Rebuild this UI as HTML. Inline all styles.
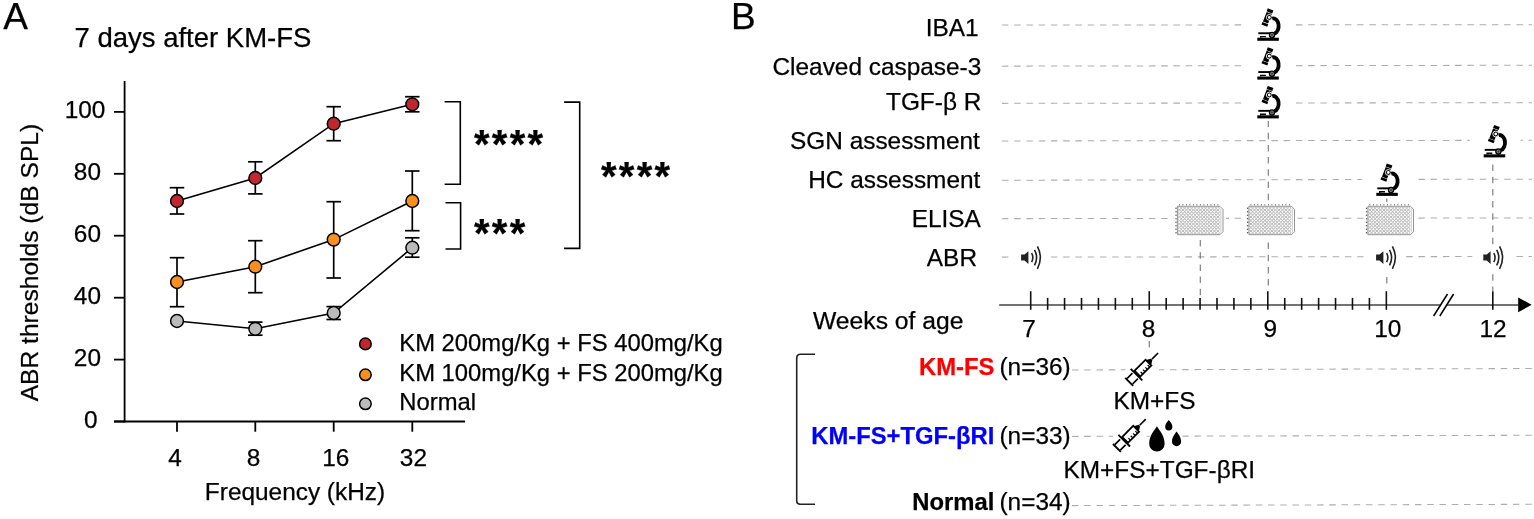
<!DOCTYPE html><html><head><meta charset="utf-8"><style>html,body{margin:0;padding:0;background:#fff;}svg{display:block;}text{font-family:"Liberation Sans",Arial,sans-serif;stroke:currentColor;stroke-width:0.25px;}</style></head><body>
<svg width="1534" height="519" viewBox="0 0 1534 519">
<rect width="1534" height="519" fill="#fff"/>
<text x="3.3" y="29.3" font-size="37">A</text>
<text x="74.5" y="47" font-size="27.5">7 days after KM-FS</text>
<g stroke="#000" stroke-width="1.8" fill="none">
<line x1="124.6" y1="81" x2="124.6" y2="422.4"/>
<line x1="114" y1="421.5" x2="465" y2="421.5"/>
<line x1="114" y1="421.5" x2="124.6" y2="421.5"/>
<line x1="114" y1="359.6" x2="124.6" y2="359.6"/>
<line x1="114" y1="297.7" x2="124.6" y2="297.7"/>
<line x1="114" y1="235.7" x2="124.6" y2="235.7"/>
<line x1="114" y1="173.8" x2="124.6" y2="173.8"/>
<line x1="114" y1="111.9" x2="124.6" y2="111.9"/>
<line x1="177" y1="421.5" x2="177" y2="431.7"/>
<line x1="255.3" y1="421.5" x2="255.3" y2="431.7"/>
<line x1="333.7" y1="421.5" x2="333.7" y2="431.7"/>
<line x1="412.3" y1="421.5" x2="412.3" y2="431.7"/>
</g>
<text x="97.6" y="427.8" font-size="24.4" text-anchor="end">0</text>
<text x="101" y="365.8" font-size="24.4" text-anchor="end">20</text>
<text x="101" y="303.8" font-size="24.4" text-anchor="end">40</text>
<text x="101" y="241.8" font-size="24.4" text-anchor="end">60</text>
<text x="101" y="179.8" font-size="24.4" text-anchor="end">80</text>
<text x="105.4" y="117.8" font-size="24.4" text-anchor="end">100</text>
<text x="175" y="465.8" font-size="24.4" text-anchor="middle">4</text>
<text x="253.6" y="465.8" font-size="24.4" text-anchor="middle">8</text>
<text x="335.8" y="465.8" font-size="24.4" text-anchor="middle">16</text>
<text x="413.4" y="465.8" font-size="24.4" text-anchor="middle">32</text>
<text x="295" y="500" font-size="24.4" text-anchor="middle">Frequency (kHz)</text>
<text transform="translate(38.2,262.6) rotate(-90)" font-size="24.6" text-anchor="middle">ABR thresholds (dB SPL)</text>
<g stroke="#000" stroke-width="1.7" fill="none">
<polyline points="177,201 255.3,178 333.7,123.7 412.3,104.3" stroke-width="1.6"/>
<line x1="177" y1="187.7" x2="177" y2="214"/>
<line x1="169.75" y1="187.7" x2="184.25" y2="187.7"/>
<line x1="169.75" y1="214" x2="184.25" y2="214"/>
<line x1="255.3" y1="161.8" x2="255.3" y2="193.9"/>
<line x1="248.05" y1="161.8" x2="262.55" y2="161.8"/>
<line x1="248.05" y1="193.9" x2="262.55" y2="193.9"/>
<line x1="333.7" y1="106.7" x2="333.7" y2="140.7"/>
<line x1="326.45" y1="106.7" x2="340.95" y2="106.7"/>
<line x1="326.45" y1="140.7" x2="340.95" y2="140.7"/>
<line x1="412.3" y1="96.7" x2="412.3" y2="111.8"/>
<line x1="405.05" y1="96.7" x2="419.55" y2="96.7"/>
<line x1="405.05" y1="111.8" x2="419.55" y2="111.8"/>
</g>
<g stroke="#000" stroke-width="1.7" fill="none">
<polyline points="177,282 255.3,266.7 333.7,239.6 412.3,201" stroke-width="1.6"/>
<line x1="177" y1="257.7" x2="177" y2="306.7"/>
<line x1="169.75" y1="257.7" x2="184.25" y2="257.7"/>
<line x1="169.75" y1="306.7" x2="184.25" y2="306.7"/>
<line x1="255.3" y1="240.7" x2="255.3" y2="292.7"/>
<line x1="248.05" y1="240.7" x2="262.55" y2="240.7"/>
<line x1="248.05" y1="292.7" x2="262.55" y2="292.7"/>
<line x1="333.7" y1="201.7" x2="333.7" y2="278"/>
<line x1="326.45" y1="201.7" x2="340.95" y2="201.7"/>
<line x1="326.45" y1="278" x2="340.95" y2="278"/>
<line x1="412.3" y1="171" x2="412.3" y2="230.7"/>
<line x1="405.05" y1="171" x2="419.55" y2="171"/>
<line x1="405.05" y1="230.7" x2="419.55" y2="230.7"/>
</g>
<g stroke="#000" stroke-width="1.7" fill="none">
<polyline points="177,321 255.3,328.8 333.7,313 412.3,247.7" stroke-width="1.6"/>
<line x1="255.3" y1="322.1" x2="255.3" y2="335.2"/>
<line x1="248.05" y1="322.1" x2="262.55" y2="322.1"/>
<line x1="248.05" y1="335.2" x2="262.55" y2="335.2"/>
<line x1="333.7" y1="306.6" x2="333.7" y2="319.5"/>
<line x1="326.45" y1="306.6" x2="340.95" y2="306.6"/>
<line x1="326.45" y1="319.5" x2="340.95" y2="319.5"/>
<line x1="412.3" y1="237.8" x2="412.3" y2="257.2"/>
<line x1="405.05" y1="237.8" x2="419.55" y2="237.8"/>
<line x1="405.05" y1="257.2" x2="419.55" y2="257.2"/>
</g>
<circle cx="177" cy="201" r="6.4" fill="#c1272d" stroke="#000" stroke-width="1.5"/>
<circle cx="255.3" cy="178" r="6.4" fill="#c1272d" stroke="#000" stroke-width="1.5"/>
<circle cx="333.7" cy="123.7" r="6.4" fill="#c1272d" stroke="#000" stroke-width="1.5"/>
<circle cx="412.3" cy="104.3" r="6.4" fill="#c1272d" stroke="#000" stroke-width="1.5"/>
<circle cx="177" cy="282" r="6.4" fill="#f7901e" stroke="#000" stroke-width="1.5"/>
<circle cx="255.3" cy="266.7" r="6.4" fill="#f7901e" stroke="#000" stroke-width="1.5"/>
<circle cx="333.7" cy="239.6" r="6.4" fill="#f7901e" stroke="#000" stroke-width="1.5"/>
<circle cx="412.3" cy="201" r="6.4" fill="#f7901e" stroke="#000" stroke-width="1.5"/>
<circle cx="177" cy="321" r="6.4" fill="#bbbbbb" stroke="#000" stroke-width="1.5"/>
<circle cx="255.3" cy="328.8" r="6.4" fill="#bbbbbb" stroke="#000" stroke-width="1.5"/>
<circle cx="333.7" cy="313" r="6.4" fill="#bbbbbb" stroke="#000" stroke-width="1.5"/>
<circle cx="412.3" cy="247.7" r="6.4" fill="#bbbbbb" stroke="#000" stroke-width="1.5"/>
<g stroke="#000" stroke-width="1.7" fill="none">
<polyline points="444.6,101.7 460.3,101.7 460.3,184.2 444.6,184.2" stroke-width="1.6"/>
<polyline points="445.5,202.7 460.6,202.7 460.6,249 445.5,249" stroke-width="1.6"/>
<polyline points="564.1,102.1 579.7,102.1 579.7,248.4 564.1,248.4" stroke-width="1.6"/>
</g>
<text x="474" y="158" font-size="40" font-weight="bold" letter-spacing="2.3">****</text>
<text x="474" y="247" font-size="40" font-weight="bold" letter-spacing="2.3">***</text>
<text x="601" y="190" font-size="40" font-weight="bold" letter-spacing="2.3">****</text>
<circle cx="365.4" cy="343.9" r="5.8" fill="#c1272d" stroke="#000" stroke-width="1.5"/>
<text x="399.3" y="350.7" font-size="23.8">KM 200mg/Kg + FS 400mg/Kg</text>
<circle cx="365.4" cy="374.8" r="5.8" fill="#f7901e" stroke="#000" stroke-width="1.5"/>
<text x="399.3" y="380.7" font-size="23.8">KM 100mg/Kg + FS 200mg/Kg</text>
<circle cx="365.4" cy="403.8" r="5.8" fill="#bbbbbb" stroke="#000" stroke-width="1.5"/>
<text x="399.3" y="409.6" font-size="23.8">Normal</text>
<text x="731" y="29" font-size="37">B</text>
<text x="978.6" y="36" font-size="24.4" text-anchor="end">IBA1</text>
<line x1="1001.9" y1="25.05" x2="1532" y2="24.7" stroke="#adadad" stroke-width="1.05" stroke-dasharray="6.5 5.75"/>
<text x="981.3" y="75.1" font-size="24.4" text-anchor="end">Cleaved caspase-3</text>
<line x1="1001.9" y1="66.15" x2="1532" y2="65.25" stroke="#adadad" stroke-width="1.05" stroke-dasharray="6.5 5.75"/>
<text x="981.3" y="109.8" font-size="24.4" text-anchor="end">TGF-β R</text>
<line x1="1001.9" y1="103.35" x2="1532" y2="102.65" stroke="#adadad" stroke-width="1.05" stroke-dasharray="6.5 5.75"/>
<text x="979.8" y="149.2" font-size="24.4" text-anchor="end">SGN assessment</text>
<line x1="1001.9" y1="140.95" x2="1532" y2="140.3" stroke="#adadad" stroke-width="1.05" stroke-dasharray="6.5 5.75"/>
<text x="980.3" y="187.7" font-size="24.4" text-anchor="end">HC assessment</text>
<line x1="1001.9" y1="180.25" x2="1532" y2="179.15" stroke="#adadad" stroke-width="1.05" stroke-dasharray="6.5 5.75"/>
<text x="980.8" y="226.8" font-size="24.4" text-anchor="end">ELISA</text>
<line x1="1001.9" y1="218.65" x2="1532" y2="217.95" stroke="#adadad" stroke-width="1.05" stroke-dasharray="6.5 5.75"/>
<text x="977" y="265.6" font-size="24.4" text-anchor="end">ABR</text>
<line x1="1001.9" y1="257.1" x2="1532" y2="256.5" stroke="#adadad" stroke-width="1.05" stroke-dasharray="6.5 5.75"/>
<line x1="1268.3" y1="120.5" x2="1268.3" y2="291" stroke="#808080" stroke-width="1.2" stroke-dasharray="6.5 5.7"/>
<line x1="1200.3" y1="240" x2="1200.3" y2="297" stroke="#808080" stroke-width="1.2" stroke-dasharray="6.5 5.7"/>
<line x1="1386.8" y1="197.5" x2="1386.8" y2="202" stroke="#808080" stroke-width="1.2" stroke-dasharray="6.5 5.7"/>
<line x1="1386.8" y1="277" x2="1386.8" y2="283.5" stroke="#808080" stroke-width="1.2" stroke-dasharray="6.5 5.7"/>
<line x1="1492.8" y1="164.5" x2="1492.8" y2="291" stroke="#808080" stroke-width="1.2" stroke-dasharray="6.5 5.7"/>
<line x1="1149.3" y1="341" x2="1149.3" y2="353" stroke="#808080" stroke-width="1.2" stroke-dasharray="6.5 5.7"/>
<line x1="999.2" y1="305" x2="1440.6" y2="305" stroke="#444" stroke-width="1.6"/>
<line x1="1446.7" y1="305" x2="1520" y2="305" stroke="#444" stroke-width="1.6"/>
<path d="M1518.2 297.4 L1531.6 304.8 L1518.2 312.2 Z" fill="#000"/>
<g stroke="#111" stroke-width="1.6">
<line x1="1030.70" y1="291.2" x2="1030.70" y2="309.8"/>
<line x1="1047.64" y1="297.9" x2="1047.64" y2="309.8"/>
<line x1="1064.57" y1="297.9" x2="1064.57" y2="309.8"/>
<line x1="1081.51" y1="297.9" x2="1081.51" y2="309.8"/>
<line x1="1098.44" y1="297.9" x2="1098.44" y2="309.8"/>
<line x1="1115.38" y1="297.9" x2="1115.38" y2="309.8"/>
<line x1="1132.31" y1="297.9" x2="1132.31" y2="309.8"/>
<line x1="1149.25" y1="291.2" x2="1149.25" y2="309.8"/>
<line x1="1166.19" y1="297.9" x2="1166.19" y2="309.8"/>
<line x1="1183.12" y1="297.9" x2="1183.12" y2="309.8"/>
<line x1="1200.06" y1="297.9" x2="1200.06" y2="309.8"/>
<line x1="1216.99" y1="297.9" x2="1216.99" y2="309.8"/>
<line x1="1233.93" y1="297.9" x2="1233.93" y2="309.8"/>
<line x1="1250.86" y1="297.9" x2="1250.86" y2="309.8"/>
<line x1="1267.80" y1="291.2" x2="1267.80" y2="309.8"/>
<line x1="1284.74" y1="297.9" x2="1284.74" y2="309.8"/>
<line x1="1301.67" y1="297.9" x2="1301.67" y2="309.8"/>
<line x1="1318.61" y1="297.9" x2="1318.61" y2="309.8"/>
<line x1="1335.54" y1="297.9" x2="1335.54" y2="309.8"/>
<line x1="1352.48" y1="297.9" x2="1352.48" y2="309.8"/>
<line x1="1369.41" y1="297.9" x2="1369.41" y2="309.8"/>
<line x1="1386.35" y1="291.2" x2="1386.35" y2="309.8"/>
<line x1="1492.8" y1="291.2" x2="1492.8" y2="309.8"/>
</g>
<g stroke="#000" stroke-width="1.5"><line x1="1433.6" y1="316" x2="1447.5" y2="294"/><line x1="1439.8" y1="316" x2="1453.6" y2="294"/></g>
<text x="1029" y="336.6" font-size="24.4" text-anchor="middle">7</text>
<text x="1148.5" y="336.6" font-size="24.4" text-anchor="middle">8</text>
<text x="1270.2" y="336.6" font-size="24.4" text-anchor="middle">9</text>
<text x="1387.8" y="336.6" font-size="24.4" text-anchor="middle">10</text>
<text x="1493" y="336.6" font-size="24.4" text-anchor="middle">12</text>
<text x="813" y="328.9" font-size="24.7">Weeks of age</text>
<g transform="translate(1257.2,8.4)"><rect x="-14" y="-2" width="51" height="37" fill="#fff"/><g transform="translate(9.9 10.1) rotate(21)"><rect x="-3" y="-9.7" width="6" height="3.2" fill="#000"/><rect x="-2.75" y="-6" width="5.5" height="10.4" fill="#000"/><rect x="-3.1" y="4.9" width="6.2" height="2.7" fill="#000"/></g><circle cx="12.1" cy="9" r="2.9" fill="#000" stroke="#fff" stroke-width="0.9"/><circle cx="12.1" cy="9" r="1.4" fill="#fff"/><path d="M15 10.2 A 5.3 7.6 0 0 1 17.2 25.2" fill="none" stroke="#000" stroke-width="3.8"/><rect x="1.1" y="23.9" width="12.8" height="1.9" fill="#000"/><circle cx="14.8" cy="26.5" r="3.2" fill="#000"/><circle cx="14.8" cy="26.5" r="1.6" fill="#444" stroke="#ccc" stroke-width="0.5"/><path d="M2.8 27.5 H8.7 V28.9 H4.2 V29.4 H2.8 Z" fill="#000"/><rect x="0.1" y="29.3" width="21.5" height="3.1" fill="#000"/></g>
<g transform="translate(1257.2,47.2)"><rect x="-14" y="-2" width="51" height="37" fill="#fff"/><g transform="translate(9.9 10.1) rotate(21)"><rect x="-3" y="-9.7" width="6" height="3.2" fill="#000"/><rect x="-2.75" y="-6" width="5.5" height="10.4" fill="#000"/><rect x="-3.1" y="4.9" width="6.2" height="2.7" fill="#000"/></g><circle cx="12.1" cy="9" r="2.9" fill="#000" stroke="#fff" stroke-width="0.9"/><circle cx="12.1" cy="9" r="1.4" fill="#fff"/><path d="M15 10.2 A 5.3 7.6 0 0 1 17.2 25.2" fill="none" stroke="#000" stroke-width="3.8"/><rect x="1.1" y="23.9" width="12.8" height="1.9" fill="#000"/><circle cx="14.8" cy="26.5" r="3.2" fill="#000"/><circle cx="14.8" cy="26.5" r="1.6" fill="#444" stroke="#ccc" stroke-width="0.5"/><path d="M2.8 27.5 H8.7 V28.9 H4.2 V29.4 H2.8 Z" fill="#000"/><rect x="0.1" y="29.3" width="21.5" height="3.1" fill="#000"/></g>
<g transform="translate(1257.2,86)"><rect x="-14" y="-2" width="51" height="37" fill="#fff"/><g transform="translate(9.9 10.1) rotate(21)"><rect x="-3" y="-9.7" width="6" height="3.2" fill="#000"/><rect x="-2.75" y="-6" width="5.5" height="10.4" fill="#000"/><rect x="-3.1" y="4.9" width="6.2" height="2.7" fill="#000"/></g><circle cx="12.1" cy="9" r="2.9" fill="#000" stroke="#fff" stroke-width="0.9"/><circle cx="12.1" cy="9" r="1.4" fill="#fff"/><path d="M15 10.2 A 5.3 7.6 0 0 1 17.2 25.2" fill="none" stroke="#000" stroke-width="3.8"/><rect x="1.1" y="23.9" width="12.8" height="1.9" fill="#000"/><circle cx="14.8" cy="26.5" r="3.2" fill="#000"/><circle cx="14.8" cy="26.5" r="1.6" fill="#444" stroke="#ccc" stroke-width="0.5"/><path d="M2.8 27.5 H8.7 V28.9 H4.2 V29.4 H2.8 Z" fill="#000"/><rect x="0.1" y="29.3" width="21.5" height="3.1" fill="#000"/></g>
<g transform="translate(1483.6,125)"><rect x="-14" y="-2" width="51" height="37" fill="#fff"/><g transform="translate(9.9 10.1) rotate(21)"><rect x="-3" y="-9.7" width="6" height="3.2" fill="#000"/><rect x="-2.75" y="-6" width="5.5" height="10.4" fill="#000"/><rect x="-3.1" y="4.9" width="6.2" height="2.7" fill="#000"/></g><circle cx="12.1" cy="9" r="2.9" fill="#000" stroke="#fff" stroke-width="0.9"/><circle cx="12.1" cy="9" r="1.4" fill="#fff"/><path d="M15 10.2 A 5.3 7.6 0 0 1 17.2 25.2" fill="none" stroke="#000" stroke-width="3.8"/><rect x="1.1" y="23.9" width="12.8" height="1.9" fill="#000"/><circle cx="14.8" cy="26.5" r="3.2" fill="#000"/><circle cx="14.8" cy="26.5" r="1.6" fill="#444" stroke="#ccc" stroke-width="0.5"/><path d="M2.8 27.5 H8.7 V28.9 H4.2 V29.4 H2.8 Z" fill="#000"/><rect x="0.1" y="29.3" width="21.5" height="3.1" fill="#000"/></g>
<g transform="translate(1376.2,163.5)"><rect x="-14" y="-2" width="51" height="37" fill="#fff"/><g transform="translate(9.9 10.1) rotate(21)"><rect x="-3" y="-9.7" width="6" height="3.2" fill="#000"/><rect x="-2.75" y="-6" width="5.5" height="10.4" fill="#000"/><rect x="-3.1" y="4.9" width="6.2" height="2.7" fill="#000"/></g><circle cx="12.1" cy="9" r="2.9" fill="#000" stroke="#fff" stroke-width="0.9"/><circle cx="12.1" cy="9" r="1.4" fill="#fff"/><path d="M15 10.2 A 5.3 7.6 0 0 1 17.2 25.2" fill="none" stroke="#000" stroke-width="3.8"/><rect x="1.1" y="23.9" width="12.8" height="1.9" fill="#000"/><circle cx="14.8" cy="26.5" r="3.2" fill="#000"/><circle cx="14.8" cy="26.5" r="1.6" fill="#444" stroke="#ccc" stroke-width="0.5"/><path d="M2.8 27.5 H8.7 V28.9 H4.2 V29.4 H2.8 Z" fill="#000"/><rect x="0.1" y="29.3" width="21.5" height="3.1" fill="#000"/></g>
<g transform="translate(1177.4,206.3)"><rect x="-4" y="-4" width="52.6" height="35.4" fill="#fff"/><path d="M0 0 H42.6 L45.6 3 V25.4 L42.6 28.4 H0 Z" fill="#fff" stroke="#7a7a7a" stroke-width="0.8"/><line x1="43.4" y1="2.2" x2="43.4" y2="26.2" stroke="#999" stroke-width="0.5"/><circle cx="2.00" cy="1.95" r="1.45" fill="#fff" stroke="#8c8c8c" stroke-width="0.55"/><circle cx="5.50" cy="1.95" r="1.45" fill="#fff" stroke="#8c8c8c" stroke-width="0.55"/><circle cx="9.00" cy="1.95" r="1.45" fill="#fff" stroke="#8c8c8c" stroke-width="0.55"/><circle cx="12.50" cy="1.95" r="1.45" fill="#fff" stroke="#8c8c8c" stroke-width="0.55"/><circle cx="16.00" cy="1.95" r="1.45" fill="#fff" stroke="#8c8c8c" stroke-width="0.55"/><circle cx="19.50" cy="1.95" r="1.45" fill="#fff" stroke="#8c8c8c" stroke-width="0.55"/><circle cx="23.00" cy="1.95" r="1.45" fill="#fff" stroke="#8c8c8c" stroke-width="0.55"/><circle cx="26.50" cy="1.95" r="1.45" fill="#fff" stroke="#8c8c8c" stroke-width="0.55"/><circle cx="30.00" cy="1.95" r="1.45" fill="#fff" stroke="#8c8c8c" stroke-width="0.55"/><circle cx="33.50" cy="1.95" r="1.45" fill="#fff" stroke="#8c8c8c" stroke-width="0.55"/><circle cx="37.00" cy="1.95" r="1.45" fill="#fff" stroke="#8c8c8c" stroke-width="0.55"/><circle cx="40.50" cy="1.95" r="1.45" fill="#fff" stroke="#8c8c8c" stroke-width="0.55"/><circle cx="2.00" cy="5.45" r="1.45" fill="#fff" stroke="#8c8c8c" stroke-width="0.55"/><circle cx="5.50" cy="5.45" r="1.45" fill="#fff" stroke="#8c8c8c" stroke-width="0.55"/><circle cx="9.00" cy="5.45" r="1.45" fill="#fff" stroke="#8c8c8c" stroke-width="0.55"/><circle cx="12.50" cy="5.45" r="1.45" fill="#fff" stroke="#8c8c8c" stroke-width="0.55"/><circle cx="16.00" cy="5.45" r="1.45" fill="#fff" stroke="#8c8c8c" stroke-width="0.55"/><circle cx="19.50" cy="5.45" r="1.45" fill="#fff" stroke="#8c8c8c" stroke-width="0.55"/><circle cx="23.00" cy="5.45" r="1.45" fill="#fff" stroke="#8c8c8c" stroke-width="0.55"/><circle cx="26.50" cy="5.45" r="1.45" fill="#fff" stroke="#8c8c8c" stroke-width="0.55"/><circle cx="30.00" cy="5.45" r="1.45" fill="#fff" stroke="#8c8c8c" stroke-width="0.55"/><circle cx="33.50" cy="5.45" r="1.45" fill="#fff" stroke="#8c8c8c" stroke-width="0.55"/><circle cx="37.00" cy="5.45" r="1.45" fill="#fff" stroke="#8c8c8c" stroke-width="0.55"/><circle cx="40.50" cy="5.45" r="1.45" fill="#fff" stroke="#8c8c8c" stroke-width="0.55"/><circle cx="2.00" cy="8.95" r="1.45" fill="#fff" stroke="#8c8c8c" stroke-width="0.55"/><circle cx="5.50" cy="8.95" r="1.45" fill="#fff" stroke="#8c8c8c" stroke-width="0.55"/><circle cx="9.00" cy="8.95" r="1.45" fill="#fff" stroke="#8c8c8c" stroke-width="0.55"/><circle cx="12.50" cy="8.95" r="1.45" fill="#fff" stroke="#8c8c8c" stroke-width="0.55"/><circle cx="16.00" cy="8.95" r="1.45" fill="#fff" stroke="#8c8c8c" stroke-width="0.55"/><circle cx="19.50" cy="8.95" r="1.45" fill="#fff" stroke="#8c8c8c" stroke-width="0.55"/><circle cx="23.00" cy="8.95" r="1.45" fill="#fff" stroke="#8c8c8c" stroke-width="0.55"/><circle cx="26.50" cy="8.95" r="1.45" fill="#fff" stroke="#8c8c8c" stroke-width="0.55"/><circle cx="30.00" cy="8.95" r="1.45" fill="#fff" stroke="#8c8c8c" stroke-width="0.55"/><circle cx="33.50" cy="8.95" r="1.45" fill="#fff" stroke="#8c8c8c" stroke-width="0.55"/><circle cx="37.00" cy="8.95" r="1.45" fill="#fff" stroke="#8c8c8c" stroke-width="0.55"/><circle cx="40.50" cy="8.95" r="1.45" fill="#fff" stroke="#8c8c8c" stroke-width="0.55"/><circle cx="2.00" cy="12.45" r="1.45" fill="#fff" stroke="#8c8c8c" stroke-width="0.55"/><circle cx="5.50" cy="12.45" r="1.45" fill="#fff" stroke="#8c8c8c" stroke-width="0.55"/><circle cx="9.00" cy="12.45" r="1.45" fill="#fff" stroke="#8c8c8c" stroke-width="0.55"/><circle cx="12.50" cy="12.45" r="1.45" fill="#fff" stroke="#8c8c8c" stroke-width="0.55"/><circle cx="16.00" cy="12.45" r="1.45" fill="#fff" stroke="#8c8c8c" stroke-width="0.55"/><circle cx="19.50" cy="12.45" r="1.45" fill="#fff" stroke="#8c8c8c" stroke-width="0.55"/><circle cx="23.00" cy="12.45" r="1.45" fill="#fff" stroke="#8c8c8c" stroke-width="0.55"/><circle cx="26.50" cy="12.45" r="1.45" fill="#fff" stroke="#8c8c8c" stroke-width="0.55"/><circle cx="30.00" cy="12.45" r="1.45" fill="#fff" stroke="#8c8c8c" stroke-width="0.55"/><circle cx="33.50" cy="12.45" r="1.45" fill="#fff" stroke="#8c8c8c" stroke-width="0.55"/><circle cx="37.00" cy="12.45" r="1.45" fill="#fff" stroke="#8c8c8c" stroke-width="0.55"/><circle cx="40.50" cy="12.45" r="1.45" fill="#fff" stroke="#8c8c8c" stroke-width="0.55"/><circle cx="2.00" cy="15.95" r="1.45" fill="#fff" stroke="#8c8c8c" stroke-width="0.55"/><circle cx="5.50" cy="15.95" r="1.45" fill="#fff" stroke="#8c8c8c" stroke-width="0.55"/><circle cx="9.00" cy="15.95" r="1.45" fill="#fff" stroke="#8c8c8c" stroke-width="0.55"/><circle cx="12.50" cy="15.95" r="1.45" fill="#fff" stroke="#8c8c8c" stroke-width="0.55"/><circle cx="16.00" cy="15.95" r="1.45" fill="#fff" stroke="#8c8c8c" stroke-width="0.55"/><circle cx="19.50" cy="15.95" r="1.45" fill="#fff" stroke="#8c8c8c" stroke-width="0.55"/><circle cx="23.00" cy="15.95" r="1.45" fill="#fff" stroke="#8c8c8c" stroke-width="0.55"/><circle cx="26.50" cy="15.95" r="1.45" fill="#fff" stroke="#8c8c8c" stroke-width="0.55"/><circle cx="30.00" cy="15.95" r="1.45" fill="#fff" stroke="#8c8c8c" stroke-width="0.55"/><circle cx="33.50" cy="15.95" r="1.45" fill="#fff" stroke="#8c8c8c" stroke-width="0.55"/><circle cx="37.00" cy="15.95" r="1.45" fill="#fff" stroke="#8c8c8c" stroke-width="0.55"/><circle cx="40.50" cy="15.95" r="1.45" fill="#fff" stroke="#8c8c8c" stroke-width="0.55"/><circle cx="2.00" cy="19.45" r="1.45" fill="#fff" stroke="#8c8c8c" stroke-width="0.55"/><circle cx="5.50" cy="19.45" r="1.45" fill="#fff" stroke="#8c8c8c" stroke-width="0.55"/><circle cx="9.00" cy="19.45" r="1.45" fill="#fff" stroke="#8c8c8c" stroke-width="0.55"/><circle cx="12.50" cy="19.45" r="1.45" fill="#fff" stroke="#8c8c8c" stroke-width="0.55"/><circle cx="16.00" cy="19.45" r="1.45" fill="#fff" stroke="#8c8c8c" stroke-width="0.55"/><circle cx="19.50" cy="19.45" r="1.45" fill="#fff" stroke="#8c8c8c" stroke-width="0.55"/><circle cx="23.00" cy="19.45" r="1.45" fill="#fff" stroke="#8c8c8c" stroke-width="0.55"/><circle cx="26.50" cy="19.45" r="1.45" fill="#fff" stroke="#8c8c8c" stroke-width="0.55"/><circle cx="30.00" cy="19.45" r="1.45" fill="#fff" stroke="#8c8c8c" stroke-width="0.55"/><circle cx="33.50" cy="19.45" r="1.45" fill="#fff" stroke="#8c8c8c" stroke-width="0.55"/><circle cx="37.00" cy="19.45" r="1.45" fill="#fff" stroke="#8c8c8c" stroke-width="0.55"/><circle cx="40.50" cy="19.45" r="1.45" fill="#fff" stroke="#8c8c8c" stroke-width="0.55"/><circle cx="2.00" cy="22.95" r="1.45" fill="#fff" stroke="#8c8c8c" stroke-width="0.55"/><circle cx="5.50" cy="22.95" r="1.45" fill="#fff" stroke="#8c8c8c" stroke-width="0.55"/><circle cx="9.00" cy="22.95" r="1.45" fill="#fff" stroke="#8c8c8c" stroke-width="0.55"/><circle cx="12.50" cy="22.95" r="1.45" fill="#fff" stroke="#8c8c8c" stroke-width="0.55"/><circle cx="16.00" cy="22.95" r="1.45" fill="#fff" stroke="#8c8c8c" stroke-width="0.55"/><circle cx="19.50" cy="22.95" r="1.45" fill="#fff" stroke="#8c8c8c" stroke-width="0.55"/><circle cx="23.00" cy="22.95" r="1.45" fill="#fff" stroke="#8c8c8c" stroke-width="0.55"/><circle cx="26.50" cy="22.95" r="1.45" fill="#fff" stroke="#8c8c8c" stroke-width="0.55"/><circle cx="30.00" cy="22.95" r="1.45" fill="#fff" stroke="#8c8c8c" stroke-width="0.55"/><circle cx="33.50" cy="22.95" r="1.45" fill="#fff" stroke="#8c8c8c" stroke-width="0.55"/><circle cx="37.00" cy="22.95" r="1.45" fill="#fff" stroke="#8c8c8c" stroke-width="0.55"/><circle cx="40.50" cy="22.95" r="1.45" fill="#fff" stroke="#8c8c8c" stroke-width="0.55"/><circle cx="2.00" cy="26.45" r="1.45" fill="#fff" stroke="#8c8c8c" stroke-width="0.55"/><circle cx="5.50" cy="26.45" r="1.45" fill="#fff" stroke="#8c8c8c" stroke-width="0.55"/><circle cx="9.00" cy="26.45" r="1.45" fill="#fff" stroke="#8c8c8c" stroke-width="0.55"/><circle cx="12.50" cy="26.45" r="1.45" fill="#fff" stroke="#8c8c8c" stroke-width="0.55"/><circle cx="16.00" cy="26.45" r="1.45" fill="#fff" stroke="#8c8c8c" stroke-width="0.55"/><circle cx="19.50" cy="26.45" r="1.45" fill="#fff" stroke="#8c8c8c" stroke-width="0.55"/><circle cx="23.00" cy="26.45" r="1.45" fill="#fff" stroke="#8c8c8c" stroke-width="0.55"/><circle cx="26.50" cy="26.45" r="1.45" fill="#fff" stroke="#8c8c8c" stroke-width="0.55"/><circle cx="30.00" cy="26.45" r="1.45" fill="#fff" stroke="#8c8c8c" stroke-width="0.55"/><circle cx="33.50" cy="26.45" r="1.45" fill="#fff" stroke="#8c8c8c" stroke-width="0.55"/><circle cx="37.00" cy="26.45" r="1.45" fill="#fff" stroke="#8c8c8c" stroke-width="0.55"/><circle cx="40.50" cy="26.45" r="1.45" fill="#fff" stroke="#8c8c8c" stroke-width="0.55"/><rect x="1.55" y="-2.3" width="0.9" height="1.5" fill="#777"/><rect x="5.05" y="-2.3" width="0.9" height="1.5" fill="#777"/><rect x="8.55" y="-2.3" width="0.9" height="1.5" fill="#777"/><rect x="12.05" y="-2.3" width="0.9" height="1.5" fill="#777"/><rect x="15.55" y="-2.3" width="0.9" height="1.5" fill="#777"/><rect x="19.05" y="-2.3" width="0.9" height="1.5" fill="#777"/><rect x="22.55" y="-2.3" width="0.9" height="1.5" fill="#777"/><rect x="26.05" y="-2.3" width="0.9" height="1.5" fill="#777"/><rect x="29.55" y="-2.3" width="0.9" height="1.5" fill="#777"/><rect x="33.05" y="-2.3" width="0.9" height="1.5" fill="#777"/><rect x="36.55" y="-2.3" width="0.9" height="1.5" fill="#777"/><rect x="40.05" y="-2.3" width="0.9" height="1.5" fill="#777"/><rect x="-2" y="1.35" width="1.2" height="1.2" fill="#444"/><rect x="-2" y="4.85" width="1.2" height="1.2" fill="#444"/><rect x="-2" y="8.35" width="1.2" height="1.2" fill="#444"/><rect x="-2" y="11.85" width="1.2" height="1.2" fill="#444"/><rect x="-2" y="15.35" width="1.2" height="1.2" fill="#444"/><rect x="-2" y="18.85" width="1.2" height="1.2" fill="#444"/><rect x="-2" y="22.35" width="1.2" height="1.2" fill="#444"/><rect x="-2" y="25.85" width="1.2" height="1.2" fill="#444"/></g>
<g transform="translate(1248.9,206.3)"><rect x="-4" y="-4" width="52.6" height="35.4" fill="#fff"/><path d="M0 0 H42.6 L45.6 3 V25.4 L42.6 28.4 H0 Z" fill="#fff" stroke="#7a7a7a" stroke-width="0.8"/><line x1="43.4" y1="2.2" x2="43.4" y2="26.2" stroke="#999" stroke-width="0.5"/><circle cx="2.00" cy="1.95" r="1.45" fill="#fff" stroke="#8c8c8c" stroke-width="0.55"/><circle cx="5.50" cy="1.95" r="1.45" fill="#fff" stroke="#8c8c8c" stroke-width="0.55"/><circle cx="9.00" cy="1.95" r="1.45" fill="#fff" stroke="#8c8c8c" stroke-width="0.55"/><circle cx="12.50" cy="1.95" r="1.45" fill="#fff" stroke="#8c8c8c" stroke-width="0.55"/><circle cx="16.00" cy="1.95" r="1.45" fill="#fff" stroke="#8c8c8c" stroke-width="0.55"/><circle cx="19.50" cy="1.95" r="1.45" fill="#fff" stroke="#8c8c8c" stroke-width="0.55"/><circle cx="23.00" cy="1.95" r="1.45" fill="#fff" stroke="#8c8c8c" stroke-width="0.55"/><circle cx="26.50" cy="1.95" r="1.45" fill="#fff" stroke="#8c8c8c" stroke-width="0.55"/><circle cx="30.00" cy="1.95" r="1.45" fill="#fff" stroke="#8c8c8c" stroke-width="0.55"/><circle cx="33.50" cy="1.95" r="1.45" fill="#fff" stroke="#8c8c8c" stroke-width="0.55"/><circle cx="37.00" cy="1.95" r="1.45" fill="#fff" stroke="#8c8c8c" stroke-width="0.55"/><circle cx="40.50" cy="1.95" r="1.45" fill="#fff" stroke="#8c8c8c" stroke-width="0.55"/><circle cx="2.00" cy="5.45" r="1.45" fill="#fff" stroke="#8c8c8c" stroke-width="0.55"/><circle cx="5.50" cy="5.45" r="1.45" fill="#fff" stroke="#8c8c8c" stroke-width="0.55"/><circle cx="9.00" cy="5.45" r="1.45" fill="#fff" stroke="#8c8c8c" stroke-width="0.55"/><circle cx="12.50" cy="5.45" r="1.45" fill="#fff" stroke="#8c8c8c" stroke-width="0.55"/><circle cx="16.00" cy="5.45" r="1.45" fill="#fff" stroke="#8c8c8c" stroke-width="0.55"/><circle cx="19.50" cy="5.45" r="1.45" fill="#fff" stroke="#8c8c8c" stroke-width="0.55"/><circle cx="23.00" cy="5.45" r="1.45" fill="#fff" stroke="#8c8c8c" stroke-width="0.55"/><circle cx="26.50" cy="5.45" r="1.45" fill="#fff" stroke="#8c8c8c" stroke-width="0.55"/><circle cx="30.00" cy="5.45" r="1.45" fill="#fff" stroke="#8c8c8c" stroke-width="0.55"/><circle cx="33.50" cy="5.45" r="1.45" fill="#fff" stroke="#8c8c8c" stroke-width="0.55"/><circle cx="37.00" cy="5.45" r="1.45" fill="#fff" stroke="#8c8c8c" stroke-width="0.55"/><circle cx="40.50" cy="5.45" r="1.45" fill="#fff" stroke="#8c8c8c" stroke-width="0.55"/><circle cx="2.00" cy="8.95" r="1.45" fill="#fff" stroke="#8c8c8c" stroke-width="0.55"/><circle cx="5.50" cy="8.95" r="1.45" fill="#fff" stroke="#8c8c8c" stroke-width="0.55"/><circle cx="9.00" cy="8.95" r="1.45" fill="#fff" stroke="#8c8c8c" stroke-width="0.55"/><circle cx="12.50" cy="8.95" r="1.45" fill="#fff" stroke="#8c8c8c" stroke-width="0.55"/><circle cx="16.00" cy="8.95" r="1.45" fill="#fff" stroke="#8c8c8c" stroke-width="0.55"/><circle cx="19.50" cy="8.95" r="1.45" fill="#fff" stroke="#8c8c8c" stroke-width="0.55"/><circle cx="23.00" cy="8.95" r="1.45" fill="#fff" stroke="#8c8c8c" stroke-width="0.55"/><circle cx="26.50" cy="8.95" r="1.45" fill="#fff" stroke="#8c8c8c" stroke-width="0.55"/><circle cx="30.00" cy="8.95" r="1.45" fill="#fff" stroke="#8c8c8c" stroke-width="0.55"/><circle cx="33.50" cy="8.95" r="1.45" fill="#fff" stroke="#8c8c8c" stroke-width="0.55"/><circle cx="37.00" cy="8.95" r="1.45" fill="#fff" stroke="#8c8c8c" stroke-width="0.55"/><circle cx="40.50" cy="8.95" r="1.45" fill="#fff" stroke="#8c8c8c" stroke-width="0.55"/><circle cx="2.00" cy="12.45" r="1.45" fill="#fff" stroke="#8c8c8c" stroke-width="0.55"/><circle cx="5.50" cy="12.45" r="1.45" fill="#fff" stroke="#8c8c8c" stroke-width="0.55"/><circle cx="9.00" cy="12.45" r="1.45" fill="#fff" stroke="#8c8c8c" stroke-width="0.55"/><circle cx="12.50" cy="12.45" r="1.45" fill="#fff" stroke="#8c8c8c" stroke-width="0.55"/><circle cx="16.00" cy="12.45" r="1.45" fill="#fff" stroke="#8c8c8c" stroke-width="0.55"/><circle cx="19.50" cy="12.45" r="1.45" fill="#fff" stroke="#8c8c8c" stroke-width="0.55"/><circle cx="23.00" cy="12.45" r="1.45" fill="#fff" stroke="#8c8c8c" stroke-width="0.55"/><circle cx="26.50" cy="12.45" r="1.45" fill="#fff" stroke="#8c8c8c" stroke-width="0.55"/><circle cx="30.00" cy="12.45" r="1.45" fill="#fff" stroke="#8c8c8c" stroke-width="0.55"/><circle cx="33.50" cy="12.45" r="1.45" fill="#fff" stroke="#8c8c8c" stroke-width="0.55"/><circle cx="37.00" cy="12.45" r="1.45" fill="#fff" stroke="#8c8c8c" stroke-width="0.55"/><circle cx="40.50" cy="12.45" r="1.45" fill="#fff" stroke="#8c8c8c" stroke-width="0.55"/><circle cx="2.00" cy="15.95" r="1.45" fill="#fff" stroke="#8c8c8c" stroke-width="0.55"/><circle cx="5.50" cy="15.95" r="1.45" fill="#fff" stroke="#8c8c8c" stroke-width="0.55"/><circle cx="9.00" cy="15.95" r="1.45" fill="#fff" stroke="#8c8c8c" stroke-width="0.55"/><circle cx="12.50" cy="15.95" r="1.45" fill="#fff" stroke="#8c8c8c" stroke-width="0.55"/><circle cx="16.00" cy="15.95" r="1.45" fill="#fff" stroke="#8c8c8c" stroke-width="0.55"/><circle cx="19.50" cy="15.95" r="1.45" fill="#fff" stroke="#8c8c8c" stroke-width="0.55"/><circle cx="23.00" cy="15.95" r="1.45" fill="#fff" stroke="#8c8c8c" stroke-width="0.55"/><circle cx="26.50" cy="15.95" r="1.45" fill="#fff" stroke="#8c8c8c" stroke-width="0.55"/><circle cx="30.00" cy="15.95" r="1.45" fill="#fff" stroke="#8c8c8c" stroke-width="0.55"/><circle cx="33.50" cy="15.95" r="1.45" fill="#fff" stroke="#8c8c8c" stroke-width="0.55"/><circle cx="37.00" cy="15.95" r="1.45" fill="#fff" stroke="#8c8c8c" stroke-width="0.55"/><circle cx="40.50" cy="15.95" r="1.45" fill="#fff" stroke="#8c8c8c" stroke-width="0.55"/><circle cx="2.00" cy="19.45" r="1.45" fill="#fff" stroke="#8c8c8c" stroke-width="0.55"/><circle cx="5.50" cy="19.45" r="1.45" fill="#fff" stroke="#8c8c8c" stroke-width="0.55"/><circle cx="9.00" cy="19.45" r="1.45" fill="#fff" stroke="#8c8c8c" stroke-width="0.55"/><circle cx="12.50" cy="19.45" r="1.45" fill="#fff" stroke="#8c8c8c" stroke-width="0.55"/><circle cx="16.00" cy="19.45" r="1.45" fill="#fff" stroke="#8c8c8c" stroke-width="0.55"/><circle cx="19.50" cy="19.45" r="1.45" fill="#fff" stroke="#8c8c8c" stroke-width="0.55"/><circle cx="23.00" cy="19.45" r="1.45" fill="#fff" stroke="#8c8c8c" stroke-width="0.55"/><circle cx="26.50" cy="19.45" r="1.45" fill="#fff" stroke="#8c8c8c" stroke-width="0.55"/><circle cx="30.00" cy="19.45" r="1.45" fill="#fff" stroke="#8c8c8c" stroke-width="0.55"/><circle cx="33.50" cy="19.45" r="1.45" fill="#fff" stroke="#8c8c8c" stroke-width="0.55"/><circle cx="37.00" cy="19.45" r="1.45" fill="#fff" stroke="#8c8c8c" stroke-width="0.55"/><circle cx="40.50" cy="19.45" r="1.45" fill="#fff" stroke="#8c8c8c" stroke-width="0.55"/><circle cx="2.00" cy="22.95" r="1.45" fill="#fff" stroke="#8c8c8c" stroke-width="0.55"/><circle cx="5.50" cy="22.95" r="1.45" fill="#fff" stroke="#8c8c8c" stroke-width="0.55"/><circle cx="9.00" cy="22.95" r="1.45" fill="#fff" stroke="#8c8c8c" stroke-width="0.55"/><circle cx="12.50" cy="22.95" r="1.45" fill="#fff" stroke="#8c8c8c" stroke-width="0.55"/><circle cx="16.00" cy="22.95" r="1.45" fill="#fff" stroke="#8c8c8c" stroke-width="0.55"/><circle cx="19.50" cy="22.95" r="1.45" fill="#fff" stroke="#8c8c8c" stroke-width="0.55"/><circle cx="23.00" cy="22.95" r="1.45" fill="#fff" stroke="#8c8c8c" stroke-width="0.55"/><circle cx="26.50" cy="22.95" r="1.45" fill="#fff" stroke="#8c8c8c" stroke-width="0.55"/><circle cx="30.00" cy="22.95" r="1.45" fill="#fff" stroke="#8c8c8c" stroke-width="0.55"/><circle cx="33.50" cy="22.95" r="1.45" fill="#fff" stroke="#8c8c8c" stroke-width="0.55"/><circle cx="37.00" cy="22.95" r="1.45" fill="#fff" stroke="#8c8c8c" stroke-width="0.55"/><circle cx="40.50" cy="22.95" r="1.45" fill="#fff" stroke="#8c8c8c" stroke-width="0.55"/><circle cx="2.00" cy="26.45" r="1.45" fill="#fff" stroke="#8c8c8c" stroke-width="0.55"/><circle cx="5.50" cy="26.45" r="1.45" fill="#fff" stroke="#8c8c8c" stroke-width="0.55"/><circle cx="9.00" cy="26.45" r="1.45" fill="#fff" stroke="#8c8c8c" stroke-width="0.55"/><circle cx="12.50" cy="26.45" r="1.45" fill="#fff" stroke="#8c8c8c" stroke-width="0.55"/><circle cx="16.00" cy="26.45" r="1.45" fill="#fff" stroke="#8c8c8c" stroke-width="0.55"/><circle cx="19.50" cy="26.45" r="1.45" fill="#fff" stroke="#8c8c8c" stroke-width="0.55"/><circle cx="23.00" cy="26.45" r="1.45" fill="#fff" stroke="#8c8c8c" stroke-width="0.55"/><circle cx="26.50" cy="26.45" r="1.45" fill="#fff" stroke="#8c8c8c" stroke-width="0.55"/><circle cx="30.00" cy="26.45" r="1.45" fill="#fff" stroke="#8c8c8c" stroke-width="0.55"/><circle cx="33.50" cy="26.45" r="1.45" fill="#fff" stroke="#8c8c8c" stroke-width="0.55"/><circle cx="37.00" cy="26.45" r="1.45" fill="#fff" stroke="#8c8c8c" stroke-width="0.55"/><circle cx="40.50" cy="26.45" r="1.45" fill="#fff" stroke="#8c8c8c" stroke-width="0.55"/><rect x="1.55" y="-2.3" width="0.9" height="1.5" fill="#777"/><rect x="5.05" y="-2.3" width="0.9" height="1.5" fill="#777"/><rect x="8.55" y="-2.3" width="0.9" height="1.5" fill="#777"/><rect x="12.05" y="-2.3" width="0.9" height="1.5" fill="#777"/><rect x="15.55" y="-2.3" width="0.9" height="1.5" fill="#777"/><rect x="19.05" y="-2.3" width="0.9" height="1.5" fill="#777"/><rect x="22.55" y="-2.3" width="0.9" height="1.5" fill="#777"/><rect x="26.05" y="-2.3" width="0.9" height="1.5" fill="#777"/><rect x="29.55" y="-2.3" width="0.9" height="1.5" fill="#777"/><rect x="33.05" y="-2.3" width="0.9" height="1.5" fill="#777"/><rect x="36.55" y="-2.3" width="0.9" height="1.5" fill="#777"/><rect x="40.05" y="-2.3" width="0.9" height="1.5" fill="#777"/><rect x="-2" y="1.35" width="1.2" height="1.2" fill="#444"/><rect x="-2" y="4.85" width="1.2" height="1.2" fill="#444"/><rect x="-2" y="8.35" width="1.2" height="1.2" fill="#444"/><rect x="-2" y="11.85" width="1.2" height="1.2" fill="#444"/><rect x="-2" y="15.35" width="1.2" height="1.2" fill="#444"/><rect x="-2" y="18.85" width="1.2" height="1.2" fill="#444"/><rect x="-2" y="22.35" width="1.2" height="1.2" fill="#444"/><rect x="-2" y="25.85" width="1.2" height="1.2" fill="#444"/></g>
<g transform="translate(1367.9,206.3)"><rect x="-4" y="-4" width="52.6" height="35.4" fill="#fff"/><path d="M0 0 H42.6 L45.6 3 V25.4 L42.6 28.4 H0 Z" fill="#fff" stroke="#7a7a7a" stroke-width="0.8"/><line x1="43.4" y1="2.2" x2="43.4" y2="26.2" stroke="#999" stroke-width="0.5"/><circle cx="2.00" cy="1.95" r="1.45" fill="#fff" stroke="#8c8c8c" stroke-width="0.55"/><circle cx="5.50" cy="1.95" r="1.45" fill="#fff" stroke="#8c8c8c" stroke-width="0.55"/><circle cx="9.00" cy="1.95" r="1.45" fill="#fff" stroke="#8c8c8c" stroke-width="0.55"/><circle cx="12.50" cy="1.95" r="1.45" fill="#fff" stroke="#8c8c8c" stroke-width="0.55"/><circle cx="16.00" cy="1.95" r="1.45" fill="#fff" stroke="#8c8c8c" stroke-width="0.55"/><circle cx="19.50" cy="1.95" r="1.45" fill="#fff" stroke="#8c8c8c" stroke-width="0.55"/><circle cx="23.00" cy="1.95" r="1.45" fill="#fff" stroke="#8c8c8c" stroke-width="0.55"/><circle cx="26.50" cy="1.95" r="1.45" fill="#fff" stroke="#8c8c8c" stroke-width="0.55"/><circle cx="30.00" cy="1.95" r="1.45" fill="#fff" stroke="#8c8c8c" stroke-width="0.55"/><circle cx="33.50" cy="1.95" r="1.45" fill="#fff" stroke="#8c8c8c" stroke-width="0.55"/><circle cx="37.00" cy="1.95" r="1.45" fill="#fff" stroke="#8c8c8c" stroke-width="0.55"/><circle cx="40.50" cy="1.95" r="1.45" fill="#fff" stroke="#8c8c8c" stroke-width="0.55"/><circle cx="2.00" cy="5.45" r="1.45" fill="#fff" stroke="#8c8c8c" stroke-width="0.55"/><circle cx="5.50" cy="5.45" r="1.45" fill="#fff" stroke="#8c8c8c" stroke-width="0.55"/><circle cx="9.00" cy="5.45" r="1.45" fill="#fff" stroke="#8c8c8c" stroke-width="0.55"/><circle cx="12.50" cy="5.45" r="1.45" fill="#fff" stroke="#8c8c8c" stroke-width="0.55"/><circle cx="16.00" cy="5.45" r="1.45" fill="#fff" stroke="#8c8c8c" stroke-width="0.55"/><circle cx="19.50" cy="5.45" r="1.45" fill="#fff" stroke="#8c8c8c" stroke-width="0.55"/><circle cx="23.00" cy="5.45" r="1.45" fill="#fff" stroke="#8c8c8c" stroke-width="0.55"/><circle cx="26.50" cy="5.45" r="1.45" fill="#fff" stroke="#8c8c8c" stroke-width="0.55"/><circle cx="30.00" cy="5.45" r="1.45" fill="#fff" stroke="#8c8c8c" stroke-width="0.55"/><circle cx="33.50" cy="5.45" r="1.45" fill="#fff" stroke="#8c8c8c" stroke-width="0.55"/><circle cx="37.00" cy="5.45" r="1.45" fill="#fff" stroke="#8c8c8c" stroke-width="0.55"/><circle cx="40.50" cy="5.45" r="1.45" fill="#fff" stroke="#8c8c8c" stroke-width="0.55"/><circle cx="2.00" cy="8.95" r="1.45" fill="#fff" stroke="#8c8c8c" stroke-width="0.55"/><circle cx="5.50" cy="8.95" r="1.45" fill="#fff" stroke="#8c8c8c" stroke-width="0.55"/><circle cx="9.00" cy="8.95" r="1.45" fill="#fff" stroke="#8c8c8c" stroke-width="0.55"/><circle cx="12.50" cy="8.95" r="1.45" fill="#fff" stroke="#8c8c8c" stroke-width="0.55"/><circle cx="16.00" cy="8.95" r="1.45" fill="#fff" stroke="#8c8c8c" stroke-width="0.55"/><circle cx="19.50" cy="8.95" r="1.45" fill="#fff" stroke="#8c8c8c" stroke-width="0.55"/><circle cx="23.00" cy="8.95" r="1.45" fill="#fff" stroke="#8c8c8c" stroke-width="0.55"/><circle cx="26.50" cy="8.95" r="1.45" fill="#fff" stroke="#8c8c8c" stroke-width="0.55"/><circle cx="30.00" cy="8.95" r="1.45" fill="#fff" stroke="#8c8c8c" stroke-width="0.55"/><circle cx="33.50" cy="8.95" r="1.45" fill="#fff" stroke="#8c8c8c" stroke-width="0.55"/><circle cx="37.00" cy="8.95" r="1.45" fill="#fff" stroke="#8c8c8c" stroke-width="0.55"/><circle cx="40.50" cy="8.95" r="1.45" fill="#fff" stroke="#8c8c8c" stroke-width="0.55"/><circle cx="2.00" cy="12.45" r="1.45" fill="#fff" stroke="#8c8c8c" stroke-width="0.55"/><circle cx="5.50" cy="12.45" r="1.45" fill="#fff" stroke="#8c8c8c" stroke-width="0.55"/><circle cx="9.00" cy="12.45" r="1.45" fill="#fff" stroke="#8c8c8c" stroke-width="0.55"/><circle cx="12.50" cy="12.45" r="1.45" fill="#fff" stroke="#8c8c8c" stroke-width="0.55"/><circle cx="16.00" cy="12.45" r="1.45" fill="#fff" stroke="#8c8c8c" stroke-width="0.55"/><circle cx="19.50" cy="12.45" r="1.45" fill="#fff" stroke="#8c8c8c" stroke-width="0.55"/><circle cx="23.00" cy="12.45" r="1.45" fill="#fff" stroke="#8c8c8c" stroke-width="0.55"/><circle cx="26.50" cy="12.45" r="1.45" fill="#fff" stroke="#8c8c8c" stroke-width="0.55"/><circle cx="30.00" cy="12.45" r="1.45" fill="#fff" stroke="#8c8c8c" stroke-width="0.55"/><circle cx="33.50" cy="12.45" r="1.45" fill="#fff" stroke="#8c8c8c" stroke-width="0.55"/><circle cx="37.00" cy="12.45" r="1.45" fill="#fff" stroke="#8c8c8c" stroke-width="0.55"/><circle cx="40.50" cy="12.45" r="1.45" fill="#fff" stroke="#8c8c8c" stroke-width="0.55"/><circle cx="2.00" cy="15.95" r="1.45" fill="#fff" stroke="#8c8c8c" stroke-width="0.55"/><circle cx="5.50" cy="15.95" r="1.45" fill="#fff" stroke="#8c8c8c" stroke-width="0.55"/><circle cx="9.00" cy="15.95" r="1.45" fill="#fff" stroke="#8c8c8c" stroke-width="0.55"/><circle cx="12.50" cy="15.95" r="1.45" fill="#fff" stroke="#8c8c8c" stroke-width="0.55"/><circle cx="16.00" cy="15.95" r="1.45" fill="#fff" stroke="#8c8c8c" stroke-width="0.55"/><circle cx="19.50" cy="15.95" r="1.45" fill="#fff" stroke="#8c8c8c" stroke-width="0.55"/><circle cx="23.00" cy="15.95" r="1.45" fill="#fff" stroke="#8c8c8c" stroke-width="0.55"/><circle cx="26.50" cy="15.95" r="1.45" fill="#fff" stroke="#8c8c8c" stroke-width="0.55"/><circle cx="30.00" cy="15.95" r="1.45" fill="#fff" stroke="#8c8c8c" stroke-width="0.55"/><circle cx="33.50" cy="15.95" r="1.45" fill="#fff" stroke="#8c8c8c" stroke-width="0.55"/><circle cx="37.00" cy="15.95" r="1.45" fill="#fff" stroke="#8c8c8c" stroke-width="0.55"/><circle cx="40.50" cy="15.95" r="1.45" fill="#fff" stroke="#8c8c8c" stroke-width="0.55"/><circle cx="2.00" cy="19.45" r="1.45" fill="#fff" stroke="#8c8c8c" stroke-width="0.55"/><circle cx="5.50" cy="19.45" r="1.45" fill="#fff" stroke="#8c8c8c" stroke-width="0.55"/><circle cx="9.00" cy="19.45" r="1.45" fill="#fff" stroke="#8c8c8c" stroke-width="0.55"/><circle cx="12.50" cy="19.45" r="1.45" fill="#fff" stroke="#8c8c8c" stroke-width="0.55"/><circle cx="16.00" cy="19.45" r="1.45" fill="#fff" stroke="#8c8c8c" stroke-width="0.55"/><circle cx="19.50" cy="19.45" r="1.45" fill="#fff" stroke="#8c8c8c" stroke-width="0.55"/><circle cx="23.00" cy="19.45" r="1.45" fill="#fff" stroke="#8c8c8c" stroke-width="0.55"/><circle cx="26.50" cy="19.45" r="1.45" fill="#fff" stroke="#8c8c8c" stroke-width="0.55"/><circle cx="30.00" cy="19.45" r="1.45" fill="#fff" stroke="#8c8c8c" stroke-width="0.55"/><circle cx="33.50" cy="19.45" r="1.45" fill="#fff" stroke="#8c8c8c" stroke-width="0.55"/><circle cx="37.00" cy="19.45" r="1.45" fill="#fff" stroke="#8c8c8c" stroke-width="0.55"/><circle cx="40.50" cy="19.45" r="1.45" fill="#fff" stroke="#8c8c8c" stroke-width="0.55"/><circle cx="2.00" cy="22.95" r="1.45" fill="#fff" stroke="#8c8c8c" stroke-width="0.55"/><circle cx="5.50" cy="22.95" r="1.45" fill="#fff" stroke="#8c8c8c" stroke-width="0.55"/><circle cx="9.00" cy="22.95" r="1.45" fill="#fff" stroke="#8c8c8c" stroke-width="0.55"/><circle cx="12.50" cy="22.95" r="1.45" fill="#fff" stroke="#8c8c8c" stroke-width="0.55"/><circle cx="16.00" cy="22.95" r="1.45" fill="#fff" stroke="#8c8c8c" stroke-width="0.55"/><circle cx="19.50" cy="22.95" r="1.45" fill="#fff" stroke="#8c8c8c" stroke-width="0.55"/><circle cx="23.00" cy="22.95" r="1.45" fill="#fff" stroke="#8c8c8c" stroke-width="0.55"/><circle cx="26.50" cy="22.95" r="1.45" fill="#fff" stroke="#8c8c8c" stroke-width="0.55"/><circle cx="30.00" cy="22.95" r="1.45" fill="#fff" stroke="#8c8c8c" stroke-width="0.55"/><circle cx="33.50" cy="22.95" r="1.45" fill="#fff" stroke="#8c8c8c" stroke-width="0.55"/><circle cx="37.00" cy="22.95" r="1.45" fill="#fff" stroke="#8c8c8c" stroke-width="0.55"/><circle cx="40.50" cy="22.95" r="1.45" fill="#fff" stroke="#8c8c8c" stroke-width="0.55"/><circle cx="2.00" cy="26.45" r="1.45" fill="#fff" stroke="#8c8c8c" stroke-width="0.55"/><circle cx="5.50" cy="26.45" r="1.45" fill="#fff" stroke="#8c8c8c" stroke-width="0.55"/><circle cx="9.00" cy="26.45" r="1.45" fill="#fff" stroke="#8c8c8c" stroke-width="0.55"/><circle cx="12.50" cy="26.45" r="1.45" fill="#fff" stroke="#8c8c8c" stroke-width="0.55"/><circle cx="16.00" cy="26.45" r="1.45" fill="#fff" stroke="#8c8c8c" stroke-width="0.55"/><circle cx="19.50" cy="26.45" r="1.45" fill="#fff" stroke="#8c8c8c" stroke-width="0.55"/><circle cx="23.00" cy="26.45" r="1.45" fill="#fff" stroke="#8c8c8c" stroke-width="0.55"/><circle cx="26.50" cy="26.45" r="1.45" fill="#fff" stroke="#8c8c8c" stroke-width="0.55"/><circle cx="30.00" cy="26.45" r="1.45" fill="#fff" stroke="#8c8c8c" stroke-width="0.55"/><circle cx="33.50" cy="26.45" r="1.45" fill="#fff" stroke="#8c8c8c" stroke-width="0.55"/><circle cx="37.00" cy="26.45" r="1.45" fill="#fff" stroke="#8c8c8c" stroke-width="0.55"/><circle cx="40.50" cy="26.45" r="1.45" fill="#fff" stroke="#8c8c8c" stroke-width="0.55"/><rect x="1.55" y="-2.3" width="0.9" height="1.5" fill="#777"/><rect x="5.05" y="-2.3" width="0.9" height="1.5" fill="#777"/><rect x="8.55" y="-2.3" width="0.9" height="1.5" fill="#777"/><rect x="12.05" y="-2.3" width="0.9" height="1.5" fill="#777"/><rect x="15.55" y="-2.3" width="0.9" height="1.5" fill="#777"/><rect x="19.05" y="-2.3" width="0.9" height="1.5" fill="#777"/><rect x="22.55" y="-2.3" width="0.9" height="1.5" fill="#777"/><rect x="26.05" y="-2.3" width="0.9" height="1.5" fill="#777"/><rect x="29.55" y="-2.3" width="0.9" height="1.5" fill="#777"/><rect x="33.05" y="-2.3" width="0.9" height="1.5" fill="#777"/><rect x="36.55" y="-2.3" width="0.9" height="1.5" fill="#777"/><rect x="40.05" y="-2.3" width="0.9" height="1.5" fill="#777"/><rect x="-2" y="1.35" width="1.2" height="1.2" fill="#444"/><rect x="-2" y="4.85" width="1.2" height="1.2" fill="#444"/><rect x="-2" y="8.35" width="1.2" height="1.2" fill="#444"/><rect x="-2" y="11.85" width="1.2" height="1.2" fill="#444"/><rect x="-2" y="15.35" width="1.2" height="1.2" fill="#444"/><rect x="-2" y="18.85" width="1.2" height="1.2" fill="#444"/><rect x="-2" y="22.35" width="1.2" height="1.2" fill="#444"/><rect x="-2" y="25.85" width="1.2" height="1.2" fill="#444"/></g>
<g transform="translate(1021.1,257.6)"><rect x="-11" y="-12" width="40" height="24" fill="#fff"/><path d="M0 -3 H3.4 L7.3 -6.4 V6.4 L3.4 3 H0 Z" fill="#222"/><path d="M10.5 -4.5 Q13 0 10.5 4.5" fill="none" stroke="#222" stroke-width="1.6"/><path d="M13.4 -7.8 Q17.6 0 13.4 7.8" fill="none" stroke="#222" stroke-width="1.6"/><path d="M16.3 -11.2 Q22.2 0 16.3 11.2" fill="none" stroke="#222" stroke-width="1.6"/></g>
<g transform="translate(1376.1,257.6)"><rect x="-11" y="-12" width="40" height="24" fill="#fff"/><path d="M0 -3 H3.4 L7.3 -6.4 V6.4 L3.4 3 H0 Z" fill="#222"/><path d="M10.5 -4.5 Q13 0 10.5 4.5" fill="none" stroke="#222" stroke-width="1.6"/><path d="M13.4 -7.8 Q17.6 0 13.4 7.8" fill="none" stroke="#222" stroke-width="1.6"/><path d="M16.3 -11.2 Q22.2 0 16.3 11.2" fill="none" stroke="#222" stroke-width="1.6"/></g>
<g transform="translate(1483.3,257.6)"><rect x="-11" y="-12" width="40" height="24" fill="#fff"/><path d="M0 -3 H3.4 L7.3 -6.4 V6.4 L3.4 3 H0 Z" fill="#222"/><path d="M10.5 -4.5 Q13 0 10.5 4.5" fill="none" stroke="#222" stroke-width="1.6"/><path d="M13.4 -7.8 Q17.6 0 13.4 7.8" fill="none" stroke="#222" stroke-width="1.6"/><path d="M16.3 -11.2 Q22.2 0 16.3 11.2" fill="none" stroke="#222" stroke-width="1.6"/></g>
<path d="M815 354.3 H800.5 Q796.7 354.3 796.7 358 V500.5 Q796.7 504.3 800.5 504.3 H815" fill="none" stroke="#222" stroke-width="1.6"/>
<line x1="1072" y1="370.0" x2="1532" y2="368.5" stroke="#adadad" stroke-width="1.05" stroke-dasharray="6.5 5.75"/>
<line x1="1072" y1="436.4" x2="1532" y2="435.3" stroke="#adadad" stroke-width="1.05" stroke-dasharray="6.5 5.75"/>
<line x1="1072" y1="505.6" x2="1532" y2="504.3" stroke="#adadad" stroke-width="1.05" stroke-dasharray="6.5 5.75"/>
<text x="994.3" y="375" font-size="23.8" font-weight="bold" fill="#ff0000" color="#ff0000" text-anchor="end">KM-FS</text>
<text x="994.3" y="444.3" font-size="23.8" font-weight="bold" fill="#0000ff" color="#0000ff" text-anchor="end">KM-FS+TGF-βRI</text>
<text x="994.3" y="510" font-size="23.8" font-weight="bold" text-anchor="end">Normal</text>
<text x="999.5" y="375" font-size="24.4">(n=36)</text>
<text x="999.5" y="444.3" font-size="24.4">(n=33)</text>
<text x="999.5" y="510" font-size="24.4">(n=34)</text>
<rect x="1125.6" y="365" width="33.4" height="9" fill="#fff"/>
<g transform="translate(1143.5,367.6) rotate(-45)"><rect x="-8.6" y="-4.1" width="15.6" height="8.2" fill="#fff" stroke="#000" stroke-width="1.8"/><line x1="4.8" y1="4" x2="4.8" y2="1.1" stroke="#000" stroke-width="1.2"/><line x1="1.5" y1="4" x2="1.5" y2="1.1" stroke="#000" stroke-width="1.2"/><line x1="-1.8" y1="4" x2="-1.8" y2="1.1" stroke="#000" stroke-width="1.2"/><line x1="-5.1" y1="4" x2="-5.1" y2="1.1" stroke="#000" stroke-width="1.2"/><path d="M7 -2.8 L8.6 -2.8 L11.6 -0.9 V0.9 L8.6 2.8 L7 2.8 Z" fill="#000"/><line x1="12" y1="0" x2="20.6" y2="0" stroke="#000" stroke-width="1.6"/><line x1="-9.9" y1="-8.2" x2="-9.9" y2="8.2" stroke="#000" stroke-width="1.9"/><path d="M-11.8 -3.9 H-19.3 M-11.8 3.9 H-19.3" stroke="#000" stroke-width="1.7"/><line x1="-20.2" y1="-5.6" x2="-20.2" y2="5.6" stroke="#000" stroke-width="1.9"/></g>
<rect x="1113" y="432" width="34" height="9" fill="#fff"/><rect x="1149.5" y="432" width="33" height="9" fill="#fff"/>
<g transform="translate(1131.2,433.7) rotate(-45)"><rect x="-8.6" y="-4.1" width="15.6" height="8.2" fill="#fff" stroke="#000" stroke-width="1.8"/><line x1="4.8" y1="4" x2="4.8" y2="1.1" stroke="#000" stroke-width="1.2"/><line x1="1.5" y1="4" x2="1.5" y2="1.1" stroke="#000" stroke-width="1.2"/><line x1="-1.8" y1="4" x2="-1.8" y2="1.1" stroke="#000" stroke-width="1.2"/><line x1="-5.1" y1="4" x2="-5.1" y2="1.1" stroke="#000" stroke-width="1.2"/><path d="M7 -2.8 L8.6 -2.8 L11.6 -0.9 V0.9 L8.6 2.8 L7 2.8 Z" fill="#000"/><line x1="12" y1="0" x2="20.6" y2="0" stroke="#000" stroke-width="1.6"/><line x1="-9.9" y1="-8.2" x2="-9.9" y2="8.2" stroke="#000" stroke-width="1.9"/><path d="M-11.8 -3.9 H-19.3 M-11.8 3.9 H-19.3" stroke="#000" stroke-width="1.7"/><line x1="-20.2" y1="-5.6" x2="-20.2" y2="5.6" stroke="#000" stroke-width="1.9"/></g>
<path d="M1156.9 426.2 C1160.37 431.51 1164.60 435.94 1164.60 443.9 A7.7 7.7 0 0 1 1149.20 443.9 C1149.20 435.94 1153.44 431.51 1156.9 426.2 Z" fill="#000"/>
<path d="M1168.8 420.0 C1170.42 422.04 1172.40 423.74 1172.40 426.8 A3.6 3.6 0 0 1 1165.20 426.8 C1165.20 423.74 1167.18 422.04 1168.8 420.0 Z" fill="#000"/>
<path d="M1176.55 431.6 C1178.60 434.62 1181.10 437.13 1181.10 441.65 A4.55 4.55 0 0 1 1172.00 441.65 C1172.00 437.13 1174.50 434.62 1176.55 431.6 Z" fill="#000"/>
<text x="1113.5" y="408.8" font-size="24.4">KM+FS</text>
<text x="1063.5" y="478.4" font-size="24.4">KM+FS+TGF-βRI</text>
</svg></body></html>
